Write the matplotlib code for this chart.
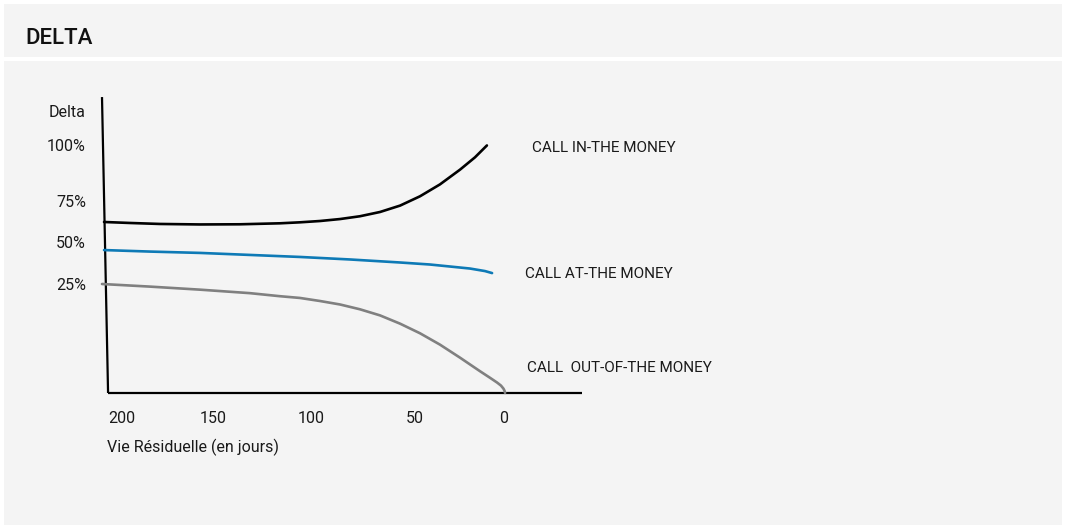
import numpy as np
import matplotlib
matplotlib.use("Agg")
import matplotlib.pyplot as plt
from matplotlib.patches import Rectangle

# ---- data: days of remaining life vs. option delta (%) ----
day_ticks = [200, 150, 100, 50, 0]
day_tick_labels = ["200", "150", "100", "50", "0"]
delta_ticks = [25, 50, 75, 100]
delta_tick_labels = ["25%", "50%", "75%", "100%"]

itm_days = [209.5, 195.4, 179.1, 157.3, 136.5, 116.1, 105.9, 95.9, 86.2, 76.6,
            66.9, 57.2, 47.2, 36.0, 24.7, 16.3, 9.6]
itm_delta = [62.2, 61.6, 61.0, 60.7, 60.8, 61.4, 62.0, 62.8, 64.0, 65.7,
             68.3, 72.2, 77.1, 82.4, 89.0, 94.5, 99.8]

atm_days = [209.5, 184.5, 157.3, 131.4, 105.9, 81.4, 57.2, 41.6, 30.3, 19.1, 10.7, 6.7]
atm_delta = [45.2, 44.3, 43.5, 42.3, 41.1, 39.6, 37.8, 36.6, 35.4, 34.2, 32.7, 31.5]

otm_days = [210.6, 184.5, 157.3, 131.4, 116.1, 105.9, 95.9, 86.2, 76.6, 66.9,
            57.2, 47.2, 36.0, 24.7, 13.5, 7.9, 3.9, 1.7, 0.3, -0.3, -0.6]
otm_delta = [25.0, 24.4, 23.7, 22.9, 22.2, 21.8, 21.1, 20.3, 19.2, 17.8,
             15.9, 13.7, 11.1, 8.1, 5.0, 3.5, 2.4, 1.7, 1.0, 0.5, 0.0]

labels = ["CALL IN-THE MONEY", "CALL AT-THE MONEY", "CALL  OUT-OF-THE MONEY"]

# ---- layout ----
W, H, DPI = 1065, 529, 100
FONT = "Roboto"
plt.rcParams["font.family"] = [FONT, "DejaVu Sans"]

# hand-spaced axes: screen position (px) of each tick value
day_vals = [0, 50, 100, 150, 200]
day_pos = [504, 415, 311.5, 213.5, 121.5]
delta_vals = [0, 25, 50, 75, 100]
delta_pos = [393, 284, 242, 201, 145]


def interp_ext(x, xp, fp):
    """Piecewise-linear interpolation, extended linearly past both ends."""
    x = np.asarray(x, dtype=float)
    xp = np.asarray(xp, dtype=float)
    fp = np.asarray(fp, dtype=float)
    y = np.interp(x, xp, fp)
    lo_slope = (fp[1] - fp[0]) / (xp[1] - xp[0])
    hi_slope = (fp[-1] - fp[-2]) / (xp[-1] - xp[-2])
    y = np.where(x < xp[0], fp[0] + (x - xp[0]) * lo_slope, y)
    y = np.where(x > xp[-1], fp[-1] + (x - xp[-1]) * hi_slope, y)
    return y


def x_fwd(d):
    return -interp_ext(d, day_vals, day_pos)


def x_inv(v):
    return interp_ext(-np.asarray(v, float), day_pos[::-1], day_vals[::-1])


def y_fwd(p):
    return -interp_ext(p, delta_vals, delta_pos)


def y_inv(v):
    return interp_ext(-np.asarray(v, float), delta_pos[::-1], delta_vals[::-1])


def fx(px):
    return px / W


def fy(py):
    return 1 - py / H


fig = plt.figure(figsize=(W / DPI, H / DPI), dpi=DPI, facecolor="white")

panel = "#f4f4f4"
fig.add_artist(Rectangle((fx(4), fy(57)), fx(1062) - fx(4), fy(4) - fy(57),
                         transform=fig.transFigure, facecolor=panel, edgecolor="none", zorder=0))
fig.add_artist(Rectangle((fx(4), fy(525)), fx(1062) - fx(4), fy(61) - fy(525),
                         transform=fig.transFigure, facecolor=panel, edgecolor="none", zorder=0))

fig.text(fx(25), fy(44), "DELTA", fontsize=16, fontweight="medium", color="#111111",
         ha="left", va="baseline")

L, R, T, B = 86, 600, 90, 400
ax = fig.add_axes([L / W, 1 - B / H, (R - L) / W, (B - T) / H])
ax.set_facecolor("none")
ax.set_xscale("function", functions=(x_fwd, x_inv))
ax.set_yscale("function", functions=(y_fwd, y_inv))
ax.set_xlim(float(x_inv(-L)), float(x_inv(-R)))
ax.set_ylim(float(y_inv(-B)), float(y_inv(-T)))
for s in ax.spines.values():
    s.set_visible(False)

ax.set_xticks(day_ticks)
ax.set_xticklabels(day_tick_labels)
ax.set_yticks(delta_ticks)
ax.set_yticklabels(delta_tick_labels)
ax.tick_params(axis="x", length=0, pad=8.0, labelsize=11.5, labelcolor="#1a1a1a")
ax.tick_params(axis="y", length=0, pad=0, labelsize=11.5, labelcolor="#1a1a1a")

# hand-drawn axis lines
ax.plot([210.6, 207.3], [121.4, 0], color="black", lw=1.6, solid_capstyle="butt", clip_on=False)
ax.plot([207.3, -43.8], [0, 0], color="black", lw=1.6, solid_capstyle="butt", clip_on=False)

line_kw = dict(lw=1.9, solid_capstyle="round", solid_joinstyle="round", clip_on=False)
ax.plot(itm_days, itm_delta, color="black", **line_kw)
ax.plot(atm_days, atm_delta, color="#0e7ab6", **line_kw)
ax.plot(otm_days, otm_delta, color="#808080", **line_kw)

txt = dict(fontsize=11, color="#1a1a1a", va="baseline", ha="left")
fig.text(fx(532), fy(152), labels[0], **txt)
fig.text(fx(525), fy(278), labels[1], **txt)
fig.text(fx(527), fy(372), labels[2], **txt)

fig.text(fx(86), fy(117), "Delta", fontsize=11.5, color="#1a1a1a", ha="right", va="baseline")
fig.text(fx(107), fy(452), "Vie Résiduelle (en jours)", fontsize=11.5, color="#1a1a1a",
         ha="left", va="baseline")

fig.savefig("out.png", dpi=DPI, facecolor="white")
